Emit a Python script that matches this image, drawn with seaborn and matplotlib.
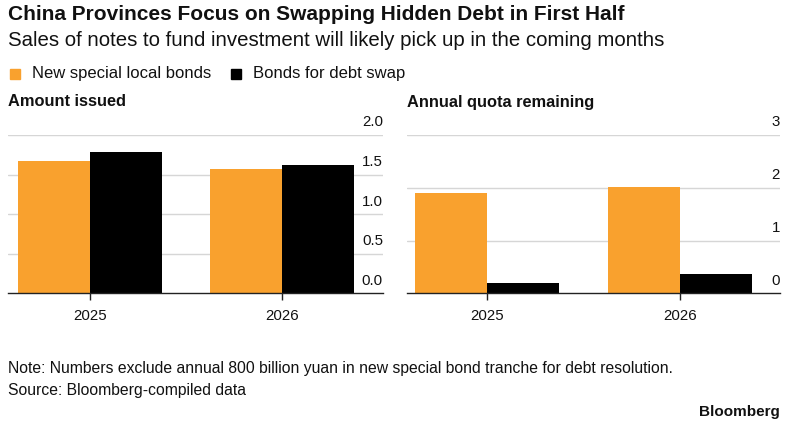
import numpy as np
import pandas as pd
import matplotlib.pyplot as plt
import seaborn as sns
from matplotlib.patches import Rectangle
import matplotlib.transforms as mtransforms

# ── Data (trillion yuan) ───────────────────────────────────────────────────────
years         = ['2025', '2026']
series        = ['New special local bonds', 'Bonds for debt swap']
issued_new    = [1.67, 1.57]
issued_swap   = [1.79, 1.62]
quota_new     = [1.91, 2.01]
quota_swap    = [0.20, 0.37]
issued_ticks  = [0.0, 0.5, 1.0, 1.5, 2.0]
quota_ticks   = [0, 1, 2, 3]

ORANGE = '#F9A12E'
BLACK  = '#000000'
GRID   = '#d6d6d6'
TXT    = '#111111'

sns.set_theme(style='white')
plt.rcParams['font.family'] = ['Liberation Sans', 'DejaVu Sans']

def long_df(new_vals, swap_vals):
    return pd.DataFrame({
        'year':   years * 2,
        'series': [series[0]] * len(years) + [series[1]] * len(years),
        'value':  list(new_vals) + list(swap_vals),
    })

fig = plt.figure(figsize=(8.10, 4.29), dpi=100)
W, H = 810, 429

def panel(rect_px, df, ticks, fmt, xlim):
    x0, x1, ytop, ybot = rect_px
    ax = fig.add_axes([x0 / W, 1 - ybot / H, (x1 - x0) / W, (ybot - ytop) / H])
    sns.barplot(data=df, x='year', y='value', hue='series', hue_order=series,
                palette=[ORANGE, BLACK], width=0.75, saturation=1,
                linewidth=0, legend=False, ax=ax)
    ax.set_xlim(*xlim)
    ax.set_ylim(ticks[0], ticks[-1])
    ax.set_xlabel(''); ax.set_ylabel('')
    ax.set_yticks([])
    for sp in ['left', 'right', 'top']:
        ax.spines[sp].set_visible(False)
    ax.spines['bottom'].set_color('#222222')
    ax.spines['bottom'].set_linewidth(1.0)
    for t in ticks[1:]:
        ax.axhline(t, color=GRID, lw=1.0, zorder=0)
    trans = mtransforms.blended_transform_factory(ax.transAxes, ax.transData)
    off = mtransforms.offset_copy(trans, fig=fig, x=0, y=4, units='points')
    for t in ticks:
        ax.text(1.0, t, fmt.format(t), transform=off, ha='right', va='bottom',
                fontsize=10.8, color=TXT)
    ax.tick_params(axis='x', bottom=True, length=5, width=1, color='#222222',
                   labelsize=10.8, labelcolor=TXT, pad=6)
    ax.set_facecolor('white')
    return ax

ax1 = panel((8, 383, 135, 293.3), long_df(issued_new, issued_swap),
            issued_ticks, '{:.1f}', (-0.427, 1.526))
ax2 = panel((407, 780, 135, 293.3), long_df(quota_new, quota_swap),
            quota_ticks, '{:d}', (-0.415, 1.518))

# ── Titles / legend / notes ───────────────────────────────────────────────────
fig.text(8 / W, 1 - 15 / H, 'China Provinces Focus on Swapping Hidden Debt in First Half',
         fontsize=15, fontweight='bold', color=TXT, va='center')
fig.text(8 / W, 1 - 41 / H, 'Sales of notes to fund investment will likely pick up in the coming months',
         fontsize=14.7, color=TXT, va='center')

for (x, label, col) in [(10, series[0], ORANGE), (231, series[1], BLACK)]:
    fig.patches.append(Rectangle((x / W, 1 - 79 / H), 10 / W, 10 / H,
                                 transform=fig.transFigure, color=col, figure=fig))
    fig.text((x + 22) / W, 1 - 74 / H, label, fontsize=12, color=TXT, va='center')

fig.text(8 / W, 1 - 102 / H, 'Amount issued', fontsize=11.8, fontweight='bold',
         color=TXT, va='center')
fig.text(407 / W, 1 - 102 / H, 'Annual quota remaining', fontsize=11.8,
         fontweight='bold', color=TXT, va='center')

fig.text(8 / W, 1 - 369 / H,
         'Note: Numbers exclude annual 800 billion yuan in new special bond tranche for debt resolution.',
         fontsize=11.3, color=TXT, va='center')
fig.text(8 / W, 1 - 390 / H, 'Source: Bloomberg-compiled data',
         fontsize=11.3, color=TXT, va='center')
fig.text(780 / W, 1 - 412 / H, 'Bloomberg', fontsize=11, fontweight='bold',
         color=TXT, va='center', ha='right')

fig.savefig('out.png', dpi=100, facecolor='white')
